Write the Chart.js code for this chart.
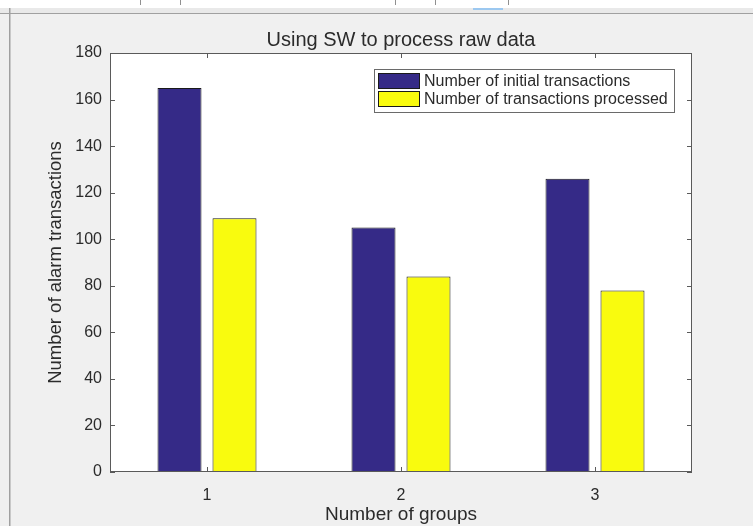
<!DOCTYPE html>
<html>
<head>
<meta charset="utf-8">
<script src="https://cdn.jsdelivr.net/npm/chart.js@4"></script>
<style>
  html, body { margin: 0; padding: 0; background: #f0f0f0; }
  #wrap { position: relative; width: 753px; height: 526px; }
</style>
</head>
<body>
<div id="wrap"><canvas id="barChart" width="753" height="526"></canvas></div>
<script>
// data
const groups = ['1', '2', '3'];
const initialTx = [165, 105, 126];
const processedTx = [109, 84, 78];
const seriesNames = ['Number of initial transactions', 'Number of transactions processed'];
const seriesColors = ['#352a87', '#f9fb0e'];
const yMin = 0, yMax = 180, yStep = 20;
const chartTitle = 'Using SW to process raw data';

const FONT = '"Liberation Sans", Arial, sans-serif';
const TEXT = '#2b2b2b';
const AXIS = '#5a5a5a';

// matlab-ish frame: box, inward ticks, legend, title, plus the screenshot edges
const matlabFrame = {
  id: 'matlabFrame',
  beforeDraw(chart) {
    const ctx = chart.ctx;
    const a = chart.chartArea;
    ctx.save();
    // screenshot bits around the figure
    ctx.fillStyle = '#ffffff';
    ctx.fillRect(0, 0, chart.width, 8);
    ctx.fillStyle = '#e9e9e9';
    ctx.fillRect(0, 8, chart.width, 5);
    ctx.fillStyle = '#a0a0a0';
    ctx.fillRect(0, 13, chart.width, 1);
    ctx.fillRect(9, 8, 1.5, chart.height);
    ctx.fillStyle = '#909090';
    [140, 180, 395, 435, 508].forEach(x => ctx.fillRect(x, 0, 1, 5));
    ctx.fillStyle = '#9cc8f0';
    ctx.fillRect(473, 8, 30, 2);
    // plot background
    ctx.fillStyle = '#ffffff';
    ctx.fillRect(a.left, a.top, a.right - a.left, a.bottom - a.top);
    ctx.restore();
  },
  afterDatasetsDraw(chart) {
    const ctx = chart.ctx;
    const a = chart.chartArea;
    const xs = chart.scales.x, ys = chart.scales.y;
    ctx.save();
    ctx.strokeStyle = AXIS;
    ctx.lineWidth = 1;
    ctx.strokeRect(a.left + 0.5, a.top + 0.5, a.right - a.left - 1, a.bottom - a.top - 1);
    ctx.beginPath();
    ys.ticks.forEach(t => {
      const y = Math.round(ys.getPixelForValue(t.value)) + 0.5;
      ctx.moveTo(a.left, y); ctx.lineTo(a.left + 5, y);
      ctx.moveTo(a.right, y); ctx.lineTo(a.right - 5, y);
    });
    groups.forEach((g, i) => {
      const x = Math.round(xs.getPixelForValue(i)) + 0.5;
      ctx.moveTo(x, a.bottom); ctx.lineTo(x, a.bottom - 5);
      ctx.moveTo(x, a.top); ctx.lineTo(x, a.top + 5);
    });
    ctx.stroke();

    // title
    ctx.fillStyle = TEXT;
    ctx.font = '20px ' + FONT;
    ctx.textAlign = 'center';
    ctx.textBaseline = 'middle';
    ctx.fillText(chartTitle, (a.left + a.right) / 2, 40);

    // legend, top right inside the axes
    const lx = 374, ly = 69, lw = 301, lh = 44;
    ctx.fillStyle = '#ffffff';
    ctx.fillRect(lx, ly, lw, lh);
    ctx.strokeStyle = '#6a6a6a';
    ctx.strokeRect(lx + 0.5, ly + 0.5, lw - 1, lh - 1);
    ctx.font = '16px ' + FONT;
    ctx.textAlign = 'left';
    chart.data.datasets.forEach((ds, i) => {
      const ry = ly + 4 + i * 18;
      ctx.fillStyle = ds.backgroundColor;
      ctx.fillRect(lx + 4, ry, 42, 16);
      ctx.strokeStyle = '#1a1a1a';
      ctx.strokeRect(lx + 4.5, ry + 0.5, 41, 15);
      ctx.fillStyle = TEXT;
      ctx.fillText(ds.label, lx + 50, ry + 8.5);
    });
    ctx.restore();
  }
};

new Chart(document.getElementById('barChart'), {
  type: 'bar',
  data: {
    labels: groups,
    datasets: [
      {
        label: seriesNames[0],
        data: initialTx,
        backgroundColor: seriesColors[0],
        borderColor: '#1a1a1a',
        borderWidth: 1,
        borderSkipped: false,
        categoryPercentage: 0.567,
        barPercentage: 0.8
      },
      {
        label: seriesNames[1],
        data: processedTx,
        backgroundColor: seriesColors[1],
        borderColor: '#1a1a1a',
        borderWidth: 1,
        borderSkipped: false,
        categoryPercentage: 0.567,
        barPercentage: 0.8
      }
    ]
  },
  options: {
    responsive: false,
    animation: false,
    layout: { padding: { top: 53, right: 61, bottom: 0, left: 0 } },
    plugins: {
      legend: { display: false },
      title: { display: false },
      tooltip: { enabled: false }
    },
    scales: {
      x: {
        grid: { display: false, drawTicks: false },
        border: { display: false },
        ticks: { color: TEXT, font: { family: FONT, size: 16 }, padding: 14 },
        title: {
          display: true, text: 'Number of groups', color: TEXT,
          font: { family: FONT, size: 19 }, padding: { top: 0, bottom: 0 }
        },
        afterFit: s => { s.height = 54; }
      },
      y: {
        min: yMin, max: yMax,
        grid: { display: false, drawTicks: false },
        border: { display: false },
        ticks: { stepSize: yStep, color: TEXT, font: { family: FONT, size: 16 }, padding: 8 },
        title: {
          display: true, text: 'Number of alarm transactions', color: TEXT,
          font: { family: FONT, size: 18.5 }, padding: { top: 45, bottom: 0 }
        },
        afterFit: s => { s.width = 110; }
      }
    }
  },
  plugins: [matlabFrame]
});
</script>
</body>
</html>
